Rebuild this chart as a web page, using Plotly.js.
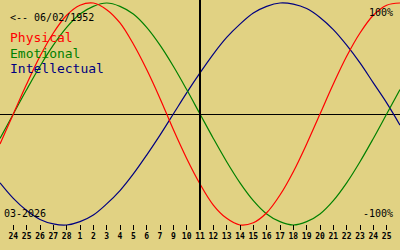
<!DOCTYPE html>
<html>
<head>
<meta charset="utf-8">
<script src="https://cdn.plot.ly/plotly-3.0.1.min.js"></script>
<style>html,body{margin:0;padding:0;background:#e1d283;}#chart{width:400px;height:250px;}</style>
</head>
<body>
<div id="chart"></div>
<script>
// Day positions (0..30) across the chart; ticks sit at 1..29
var days = [0,1,2,3,4,5,6,7,8,9,10,11,12,13,14,15,16,17,18,19,20,21,22,23,24,25,26,27,28,29,30];
var tickPos = [1,2,3,4,5,6,7,8,9,10,11,12,13,14,15,16,17,18,19,20,21,22,23,24,25,26,27,28,29];
var tickLabels = ["24","25","26","27","28","1","2","3","4","5","6","7","9","10","11","12","13","14","15","16","17","18","19","20","21","22","23","24","25"];
var todayPos = 15;

var physical = [-27,0,27,52,73,89,98,100,94,82,63,40,14,-14,-40,-63,-82,-94,-100,-98,-89,-73,-52,-27,0,27,52,73,89,98,100];
var emotional = [-22,0,22,43,62,78,90,97,100,97,90,78,62,43,22,0,-22,-43,-62,-78,-90,-97,-100,-97,-90,-78,-62,-43,-22,0,22];
var intellectual = [-62,-76,-87,-95,-99,-100,-97,-91,-81,-69,-54,-37,-19,0,19,37,54,69,81,91,97,100,99,95,87,76,62,46,28,10,-10];

var bg = "#e1d283";
var mono = "DejaVu Sans Mono, monospace";

function tr(y, color) {
  return {x: days, y: y, type: "scatter", mode: "lines",
    line: {color: color, width: 1.2, shape: "spline", smoothing: 1}, hoverinfo: "skip"};
}

var data = [tr(intellectual, "#000080"), tr(emotional, "#008000"), tr(physical, "#ff0000")];

function ann(text, x, y, color, size, xanchor) {
  return {text: text, x: x, y: y, xref: "paper", yref: "paper", xanchor: xanchor || "left", yanchor: "middle",
    showarrow: false, borderpad: 0, borderwidth: 0, font: {family: mono, size: size, color: color}};
}

var H = 230; // plot area height in px
var layout = {
  width: 400, height: 250,
  margin: {l: 0, r: 0, t: 0, b: 20, pad: 0},
  paper_bgcolor: bg, plot_bgcolor: bg,
  showlegend: false,
  xaxis: {range: [0, 30], showgrid: false, zeroline: false, showline: false,
    tickmode: "array", tickvals: tickPos, ticktext: tickLabels,
    ticks: "inside", ticklen: 5, tickwidth: 1, tickcolor: "#000",
    tickfont: {family: "DejaVu Sans Mono, monospace", size: 8, color: "#000", weight: "bold"}},
  yaxis: {range: [-104.5, 102.7], showgrid: false, showticklabels: false, ticks: "",
    zeroline: true, zerolinecolor: "#000", zerolinewidth: 1, showline: false},
  shapes: [{type: "line", xref: "x", yref: "paper", x0: todayPos, x1: todayPos, y0: 0, y1: 1,
    line: {color: "#000", width: 2}}],
  annotations: [
    ann("&lt;-- 06/02/1952", 10/400, 1 - 17/H, "#000", 10),
    ann("Physical", 10/400, 1 - 38/H, "#ff0000", 13),
    ann("Emotional", 10/400, 1 - 53/H, "#008000", 13),
    ann("Intellectual", 10/400, 1 - 68/H, "#000080", 13),
    ann("100%", 393/400, 1 - 12/H, "#000", 10, "right"),
    ann("-100%", 393/400, 1 - 213/H, "#000", 10, "right"),
    ann("03-2026", 4/400, 1 - 213/H, "#000", 10)
  ]
};

Plotly.newPlot("chart", data, layout, {staticPlot: true, displayModeBar: false});
</script>
</body>
</html>
